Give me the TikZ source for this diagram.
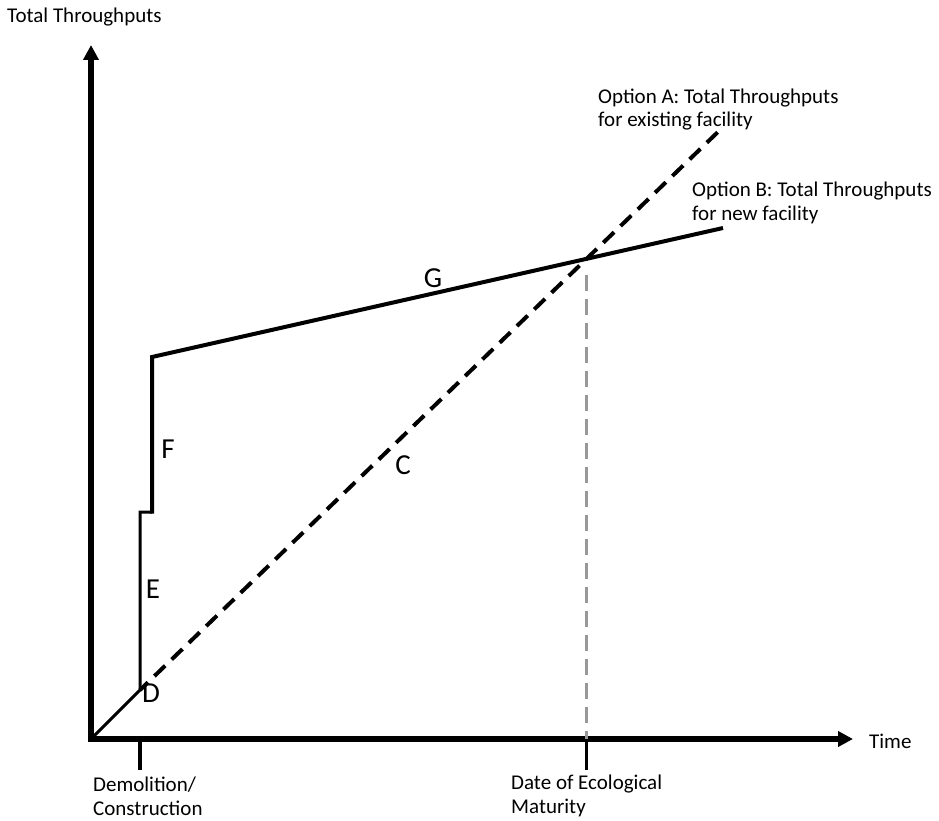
\documentclass[tikz,border=0pt]{standalone}
\usepackage{fontspec}
\setmainfont{Carlito}
\usetikzlibrary{arrows.meta,calc}

\tikzset{
  axisline/.style={line width=5.5pt, line join=miter,
    {Triangle[length=15pt,width=15pt]}-{Triangle[length=15pt,width=15pt]}},
  tickline/.style={line width=3.5pt},
  thinpath/.style={line width=3pt, line join=miter},
  mainpath/.style={line width=4pt, line join=miter},
  optionA/.style={line width=4pt, dash pattern=on 15pt off 9pt, dash phase=4pt},
  guide/.style={line width=3.5pt, draw=black!40, dash pattern=on 16pt off 8pt},
  caption/.style={font=\fontsize{21pt}{23.5pt}\selectfont, inner sep=0pt,
    anchor=base west, align=left},
  seglabel/.style={font=\fontsize{29pt}{32pt}\selectfont, inner sep=0pt, anchor=base}
}

\begin{document}
\begin{tikzpicture}[x=1pt, y=-1pt]
  \useasboundingbox (0,0) rectangle (939,821);

  % key points of the plot
  \coordinate (O) at (91,739);
  \coordinate (Ytip) at (91,45);
  \coordinate (Xtip) at (853,739);
  \coordinate (D) at (140,690);
  \coordinate (S1) at (140,512);
  \coordinate (S2) at (152,512);
  \coordinate (Ftop) at (152,357);
  \coordinate (Bend) at (723,228);
  \coordinate (Aend) at (721,129);
  \coordinate (M) at (intersection of D--Aend and Ftop--Bend);
  \coordinate (T1) at (D |- O);
  \coordinate (T1b) at ($(T1)+(0,31)$);
  \coordinate (T2) at (M |- O);
  \coordinate (T2b) at ($(T2)+(0,31)$);

  % axes
  \draw[axisline] (Ytip) -- (O) -- (Xtip);

  % ticks on the time axis
  \draw[tickline] (T1) -- (T1b);
  \draw[tickline] (T2) -- (T2b);

  % guide line down from the crossing point
  \draw[guide] ($(M)+(0,16)$) -- (T2);

  % option A: existing facility
  \draw[optionA] (D) -- (Aend);

  % option B: new facility
  \draw[thinpath] (O) -- (D) -- (S1) -- (S2);
  \draw[mainpath] ($(S2)+(0,1.5)$) -- (Ftop) -- (Bend);

  % segment labels
  \node[seglabel] (lG) at (433,287) {G};
  \node[seglabel] (lC) at (403,474) {C};
  \node[seglabel] (lF) at (168,458) {F};
  \node[seglabel] (lE) at (153,598) {E};
  \node[seglabel] (lD) at (151,702) {D};

  % axis and line captions (base anchor sits on the last line)
  \node[caption] (ylab) at (7,23) {Total Throughputs};
  \node[caption] (xlab) at (869,748) {Time};
  \node[caption] (capA) at (598,127) {Option A: Total Throughputs\\for existing facility};
  \node[caption] (capB) at (692,220) {Option B: Total Throughputs\\for new facility};
  \node[caption] (capT1) at (93,815) {Demolition/\\Construction};
  \node[caption] (capT2) at (511,813) {Date of Ecological\\Maturity};
\end{tikzpicture}
\end{document}
